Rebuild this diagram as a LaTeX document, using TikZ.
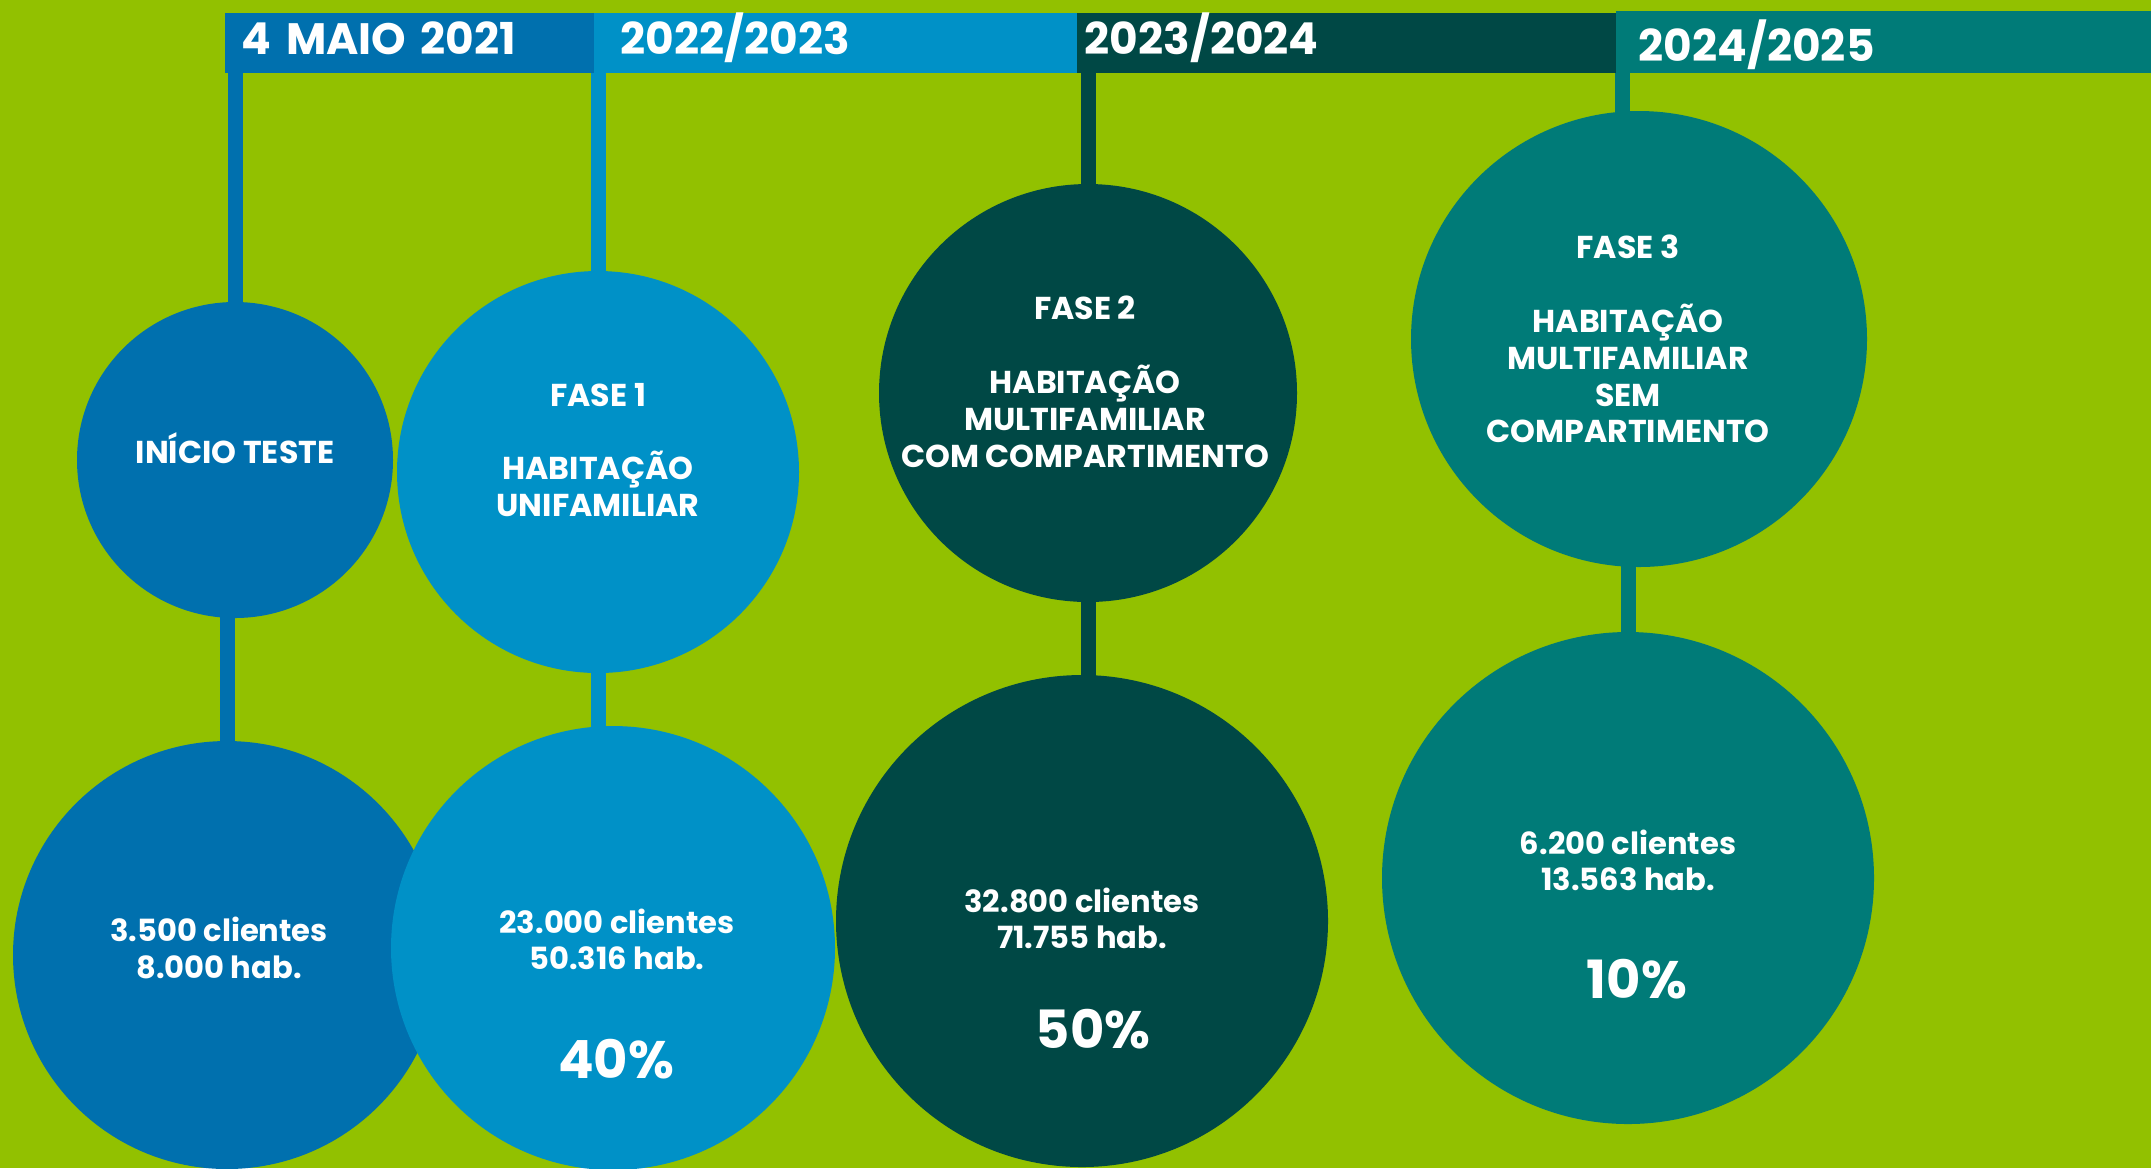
\documentclass[tikz,border=0pt]{standalone}
\usepackage{fontspec}
\setmainfont{Poppins}
\usepackage{tikz}
\usepackage{xcolor}
\definecolor{bgGreen}{RGB}{146,193,0}
\definecolor{dkBlue}{RGB}{0,112,174}
\definecolor{ltBlue}{RGB}{0,145,199}
\definecolor{dkTeal}{RGB}{0,72,69}
\definecolor{tealPhase}{RGB}{0,123,120}
\newcommand\hdFont{\fontsize{12.5}{14}\selectfont\bfseries}
\newcommand\capFont{\fontsize{9}{10.5}\selectfont\bfseries}
\newcommand\numFont{\fontsize{8.7}{10.3}\selectfont\bfseries}
\newcommand\pctFont{\fontsize{15}{17}\selectfont\bfseries}

\begin{document}
\begin{tikzpicture}[
    hdr/.style={fill=#1, anchor=north west, minimum height=0.60cm, inner ysep=0pt, text=white, font=\hdFont, align=left, text height=0.3cm, text depth=0.06cm},
    bubble/.style={circle, fill=#1, inner sep=0pt},
    stem/.style={draw=#1, line width=0.15cm},
    lbl/.style={text=white, align=center, font=\capFont},
    num/.style={text=white, align=center, font=\numFont},
    pct/.style={text=white, font=\pctFont}
]
    \useasboundingbox (0,0) rectangle (21.51,-11.68);
    \fill[bgGreen] (0,0) rectangle (21.51,-11.68);

    \node[hdr=dkBlue, inner xsep=0.17cm, text width=3.35cm] (hd1) at (2.24,-0.12) {4 MAIO 2021};
    \node[hdr=ltBlue, inner xsep=0.27cm, text width=4.29cm] (hd2) at (5.93,-0.12) {2022/2023};
    \node[hdr=dkTeal, inner xsep=0.08cm, text width=5.23cm] (hd3) at (10.76,-0.12) {2023/2024};
    \node[hdr=tealPhase, inner xsep=0.23cm, text width=4.90cm, minimum height=0.62cm, text height=0.39cm, text depth=0cm] (hd4) at (16.15,-0.10) {2024/2025};

    \node[bubble=dkBlue, minimum size=3.16cm] (c1) at (2.35,-4.60) {};
    \node[bubble=ltBlue, minimum size=4.02cm] (c2) at (5.98,-4.72) {};
    \node[bubble=dkTeal, minimum size=4.18cm] (c3) at (10.88,-3.93) {};
    \node[bubble=tealPhase, minimum size=4.56cm] (c4) at (16.39,-3.39) {};

    \node[bubble=dkBlue, minimum size=4.28cm] (b1) at (2.27,-9.55) {};
    \node[bubble=ltBlue, minimum size=4.44cm] (b2) at (6.13,-9.48) {};
    \node[bubble=dkTeal, minimum size=4.92cm] (b3) at (10.82,-9.21) {};
    \node[bubble=tealPhase, minimum size=4.92cm] (b4) at (16.28,-8.78) {};

    \draw[stem=dkBlue] (c1.center) -- (c1.center |- hd1.south);
    \draw[stem=ltBlue] (c2.center) -- (c2.center |- hd2.south);
    \draw[stem=dkTeal] (c3.center) -- (c3.center |- hd3.south);
    \draw[stem=tealPhase] ([xshift=-0.17cm]c4.center) -- ([xshift=-0.17cm]c4.center |- hd4.south);

    \draw[stem=dkBlue] (b1.center) -- (b1.center |- c1.center);
    \draw[stem=ltBlue] (c2.center) -- (c2.center |- b2.center);
    \draw[stem=dkTeal] (c3.center) -- (c3.center |- b3.center);
    \draw[stem=tealPhase] (b4.center) -- (b4.center |- c4.center);

    \node[lbl] (t1) at ([yshift=0.12cm]c1.center) {INÍCIO TESTE};
    \node[lbl] (t2) at ([yshift=0.22cm]c2.center) {FASE 1\\[10.5pt]HABITAÇÃO\\UNIFAMILIAR};
    \node[lbl] (t3) at ([xshift=-0.03cm,yshift=0.11cm]c3.center) {FASE 2\\[10.5pt]HABITAÇÃO\\MULTIFAMILIAR\\COM COMPARTIMENTO};
    \node[lbl] (t4) at ([xshift=-0.11cm]c4.center) {FASE 3\\[10.5pt]HABITAÇÃO\\MULTIFAMILIAR\\SEM\\COMPARTIMENTO};

    \node[num] (n1) at ([xshift=-0.08cm,yshift=0.07cm]b1.center) {3.500 clientes\\8.000 hab.};
    \node[num] (n2) at ([xshift=0.04cm,yshift=0.09cm]b2.center) {23.000 clientes\\50.316 hab.};
    \node[num] (n3) at ([yshift=0.03cm]b3.center) {32.800 clientes\\71.755 hab.};
    \node[num] (n4) at ([yshift=0.18cm]b4.center) {6.200 clientes\\13.563 hab.};

    \node[pct] (p2) at ([xshift=0.03cm,yshift=-1.11cm]b2.center) {40\%};
    \node[pct] (p3) at ([xshift=0.11cm,yshift=-1.08cm]b3.center) {50\%};
    \node[pct] (p4) at ([xshift=0.09cm,yshift=-1.01cm]b4.center) {10\%};
\end{tikzpicture}
\end{document}
